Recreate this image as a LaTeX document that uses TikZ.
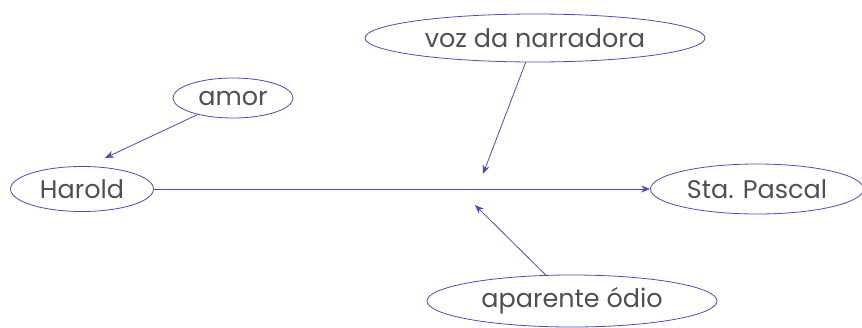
\documentclass[tikz,border=0pt]{standalone}
\usepackage{fontspec}
\setmainfont{Poppins}
\usetikzlibrary{shapes.geometric,arrows.meta}
\definecolor{linkblue}{HTML}{4C4CB8}
\definecolor{wordgray}{HTML}{505050}
\begin{document}
\begin{tikzpicture}[x=1pt, y=-1pt,
    idea/.style={ellipse, draw=linkblue, line width=0.8pt, inner sep=0pt,
        text=wordgray, font=\fontsize{25.5}{28}\selectfont},
    link/.style={draw=linkblue, line width=0.8pt, -{Stealth[length=9pt,width=7pt]}}]
    % Page frame
    \useasboundingbox (0,0) rectangle (862,327);

    % The two characters on the main line
    \node[idea, minimum width=143pt, minimum height=45pt] (harold) at (82,189) {Harold};
    \node[idea, minimum width=213pt, minimum height=50pt] (pascal) at (757,189) {Sta. Pascal};

    % Feelings and narrator
    \node[idea, minimum width=120pt, minimum height=40pt] (amor) at (233,98) {amor};
    \node[idea, minimum width=340pt, minimum height=48pt] (voz) at (535,38) {voz da narradora};
    \node[idea, minimum width=290pt, minimum height=52pt] (odio) at (572,301) {aparente ódio};

    % Free ends of the side arrows
    \coordinate (above) at (483,174);
    \coordinate (below) at (475,205);
    \coordinate (haroldtop) at (105,158);

    % Connectors
    \draw[link] (harold) -- (pascal);
    \draw[link] (amor) -- (haroldtop);
    \draw[link] (voz) -- (above);
    \draw[link] (odio) -- (below);
\end{tikzpicture}
\end{document}
